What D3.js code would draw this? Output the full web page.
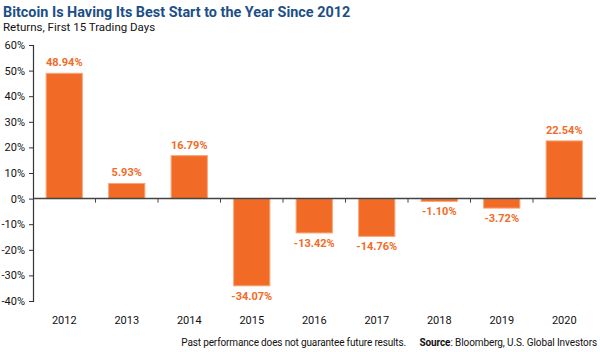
<!DOCTYPE html>
<html>
<head>
<meta charset="utf-8">
<script src="https://cdn.jsdelivr.net/npm/d3@7"></script>
<style>
body { margin: 0; background: #fff; }
text { font-family: Roboto, "Noto Sans", sans-serif; }
</style>
</head>
<body>
<div id="chart"></div>
<script>
var years = ["2012","2013","2014","2015","2016","2017","2018","2019","2020"];
var returns = [48.94, 5.93, 16.79, -34.07, -13.42, -14.76, -1.10, -3.72, 22.54];
var yTicks = [60, 50, 40, 30, 20, 10, 0, -10, -20, -30, -40];

var W = 600, H = 352;
var margin = {top: 45, right: 4, bottom: 51, left: 33};
var width = W - margin.left - margin.right,
    height = H - margin.top - margin.bottom;

var svg = d3.select("#chart").append("svg")
    .attr("width", W).attr("height", H);

svg.append("text").attr("x", 3).attr("y", 17)
    .style("font-size", "14.4px").style("font-weight", "bold")
    .attr("fill", "#1c4f86")
    .text("Bitcoin Is Having Its Best Start to the Year Since 2012");
svg.append("text").attr("x", 3).attr("y", 31)
    .style("font-size", "11.5px").attr("fill", "#111")
    .text("Returns, First 15 Trading Days");

var g = svg.append("g")
    .attr("transform", "translate(" + margin.left + "," + margin.top + ")");

var x = d3.scaleBand().domain(years).range([0, 562.5]).paddingInner(0.42).paddingOuter(0.21);
var y = d3.scaleLinear().domain([-40, 60]).range([256, 0]);

// y axis
var yAxis = g.append("g")
    .call(d3.axisLeft(y).tickValues(yTicks).tickSize(4).tickFormat(d => d + "%"));
yAxis.select(".domain").attr("stroke", "#333").attr("stroke-width", 1.2);
yAxis.selectAll(".tick line").attr("stroke", "#333");
yAxis.selectAll("text").style("font-size", "11px").attr("fill", "#111").attr("dx", "-1");

// bars
g.append("g").selectAll("rect")
    .data(returns)
    .enter().append("rect")
    .attr("x", (d, i) => x(years[i]))
    .attr("y", d => y(Math.max(0, d)))
    .attr("width", x.bandwidth())
    .attr("height", d => Math.abs(y(d) - y(0)))
    .attr("fill", "#f26b26")
    .attr("stroke", "#f7a77a")
    .attr("stroke-width", 1);

// zero line with category separator ticks
g.append("line").attr("x1", 0).attr("x2", 563)
    .attr("y1", y(0)).attr("y2", y(0))
    .attr("stroke", "#444").attr("stroke-width", 1.5);
g.append("g").selectAll("line")
    .data(years.slice(1))
    .enter().append("line")
    .attr("x1", d => x(d) - x.step() * x.paddingInner() / 2)
    .attr("x2", d => x(d) - x.step() * x.paddingInner() / 2)
    .attr("y1", y(0)).attr("y2", y(0) + 4)
    .attr("stroke", "#444");

// value labels
g.append("g").selectAll("text")
    .data(returns)
    .enter().append("text")
    .attr("x", (d, i) => x(years[i]) + x.bandwidth() / 2)
    .attr("y", d => d >= 0 ? y(d) - 7 : y(d) + 14)
    .attr("text-anchor", "middle")
    .style("font-size", "11px").style("font-weight", "bold")
    .attr("fill", "#f26b26")
    .text(d => d.toFixed(2) + "%");

// category labels
g.append("g").selectAll("text")
    .data(years)
    .enter().append("text")
    .attr("x", d => x(d) + x.bandwidth() / 2)
    .attr("y", 279)
    .attr("text-anchor", "middle")
    .style("font-size", "11px").attr("fill", "#111")
    .text(d => d);

// footer
svg.append("text").attr("x", 406).attr("y", 346).attr("text-anchor", "end")
    .style("font-size", "10px").style("letter-spacing", "-0.15px").attr("fill", "#111")
    .text("Past performance does not guarantee future results.");
var src = svg.append("text").attr("x", 597).attr("y", 346).attr("text-anchor", "end")
    .style("font-size", "10px").style("letter-spacing", "-0.1px").attr("fill", "#111");
src.append("tspan").style("font-weight", "bold").text("Source");
src.append("tspan").text(": Bloomberg, U.S. Global Investors");
</script>
</body>
</html>
